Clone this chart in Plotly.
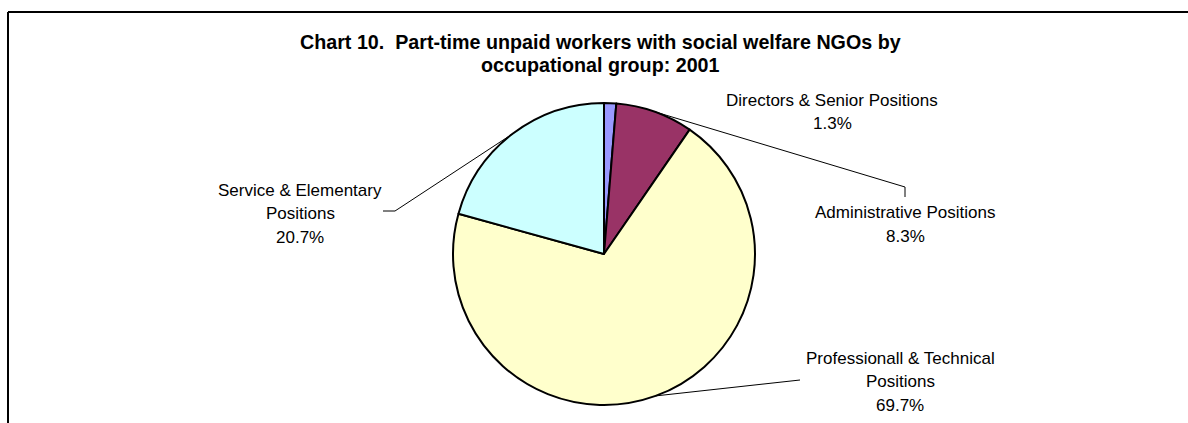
import numpy as np
import plotly.graph_objects as go

W, H = 1188, 423

# data
labels = ['Directors & Senior Positions', 'Administrative Positions',
          'Professionall & Technical Positions', 'Service & Elementary Positions']
values = [1.3, 8.3, 69.7, 20.7]
colors = ['#9999FF', '#993366', '#FFFFCC', '#CCFFFF']

# label text lines (as in the chart)
label_lines = [
    ['Directors & Senior Positions', '1.3%'],
    ['Administrative Positions', '8.3%'],
    ['Professionall & Technical', 'Positions', '69.7%'],
    ['Service & Elementary', 'Positions', '20.7%'],
]
title_lines = ['Chart 10.  Part-time unpaid workers with social welfare NGOs by',
               'occupational group: 2001']

# layout in pixels
cx, cy, r = 604, 254, 151
label_pos = [(832, 100), (905, 213), (900, 358), (300, 190)]
# leader line elbows (None = no leader line)
elbows = [None, [(905, 187), (905, 197)], [(800, 380)], [(395, 211), (383, 211)]]

def px(x):
    return x / W

def py(y):
    return 1 - y / H

fig = go.Figure()
fig.add_trace(go.Pie(
    labels=labels, values=values, sort=False, direction='clockwise', rotation=0,
    marker=dict(colors=colors, line=dict(color='black', width=2)),
    textinfo='none', hoverinfo='label+percent', showlegend=False,
    domain=dict(x=[px(cx - r), px(cx + r)], y=[py(cy + r), py(cy - r)]),
))

fam = 'Liberation Sans, Arial, sans-serif'
annotations = []
for i, t in enumerate(title_lines):
    annotations.append(dict(x=px(601), y=py(42 + i * 23), xref='paper', yref='paper',
                            xanchor='center', yanchor='middle',
                            text='<b>%s</b>' % t, showarrow=False,
                            font=dict(family=fam, size=19.7, color='black')))
for lines, (lx, ly) in zip(label_lines, label_pos):
    for j, t in enumerate(lines):
        annotations.append(dict(x=px(lx), y=py(ly + j * 23.5), xref='paper', yref='paper',
                                xanchor='center', yanchor='middle',
                                text=t, showarrow=False,
                                font=dict(family=fam, size=17, color='black')))

shapes = []
# leader lines from mid-angle of each slice on the pie edge
cum = np.cumsum([0] + values)
tot = cum[-1]
for i, el in enumerate(elbows):
    if el is None:
        continue
    ang = np.deg2rad((cum[i] + values[i] / 2) / tot * 360)
    pts = [(cx + r * np.sin(ang), cy - r * np.cos(ang))] + el
    for (x0, y0), (x1, y1) in zip(pts[:-1], pts[1:]):
        shapes.append(dict(type='line', xref='paper', yref='paper',
                           x0=px(x0), y0=py(y0), x1=px(x1), y1=py(y1),
                           line=dict(color='black', width=1)))

# chart area border (top and left visible)
shapes.append(dict(type='line', xref='paper', yref='paper', x0=px(8), y0=py(12), x1=1, y1=py(12),
                   line=dict(color='black', width=2)))
shapes.append(dict(type='line', xref='paper', yref='paper', x0=px(8), y0=py(12), x1=px(8), y1=0,
                   line=dict(color='black', width=2)))

fig.update_layout(
    width=W, height=H, margin=dict(l=0, r=0, t=0, b=0),
    paper_bgcolor='white', plot_bgcolor='white',
    annotations=annotations, shapes=shapes,
)
fig.write_html("out.html", config={'displayModeBar': False},
               post_script="document.body.style.margin='0';")
